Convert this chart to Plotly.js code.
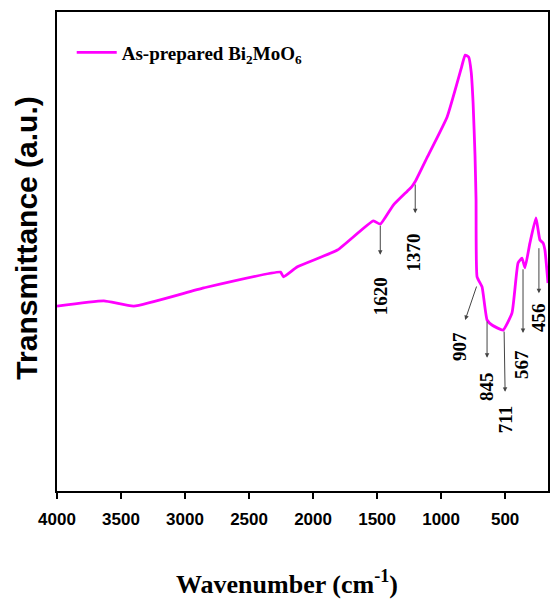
<!DOCTYPE html>
<html>
<head>
<meta charset="utf-8">
<script src="https://cdn.plot.ly/plotly-3.0.1.min.js"></script>
<style>html,body{margin:0;padding:0;background:#fff;}#chart{width:553px;height:599px;}</style>
</head>
<body>
<div id="chart"></div>
<script>
var wavenumber = [4000, 3634, 3400, 2854, 2254, 2231, 2122, 1810, 1529, 1475, 1373, 1264, 1230, 1202, 1108, 953, 840, 812, 785, 765, 750, 735, 727, 719, 680, 641, 600, 516, 446, 399, 368, 345, 306, 259, 228, 204, 189, 165];
var transmittance = [38.6, 39.7, 38.6, 42.4, 45.7, 44.7, 46.8, 50.3, 56.4, 55.7, 59.7, 62.6, 63.5, 64.6, 69.7, 78.1, 88.5, 91.0, 90.6, 87.5, 81.0, 70.0, 60.8, 44.7, 42.6, 35.7, 34.6, 33.6, 37.2, 47.6, 48.6, 46.6, 51.8, 57.0, 52.4, 51.8, 50.3, 43.4];
var seriesName = 'As-prepared Bi<sub>2</sub>MoO<sub>6</sub>';
var xTitle = 'Wavenumber (cm<sup>-1</sup>)';
var yTitle = 'Transmittance (a.u.)';
var tickValues = [4000, 3500, 3000, 2500, 2000, 1500, 1000, 500];
var tickLabels = ['4000', '3500', '3000', '2500', '2000', '1500', '1000', '500'];
var peakLabels = ['1620', '1370', '907', '845', '711', '567', '456'];

// layout placement of peak markers: [tailX, tailY, headX, headY, textX, textY]
var peakPlacement = [
  [1475, 55.7, 1475, 49.3, 1475, 40.7],
  [1202, 64.3, 1202, 58.0, 1215, 49.7],
  [719, 43.0, 812, 35.7, 851, 30.1],
  [641, 35.7, 641, 27.8, 649, 21.7],
  [508, 33.6, 500, 20.7, 500, 14.8],
  [360, 46.6, 360, 33.0, 376, 26.5],
  [236, 51.0, 236, 41.3, 243, 36.1]
];

var annotations = [];
peakLabels.forEach(function (lab, i) {
  var p = peakPlacement[i];
  annotations.push({
    x: p[2], y: p[3], ax: p[0], ay: p[1], xref: 'x', yref: 'y', axref: 'x', ayref: 'y',
    text: '', showarrow: true, arrowhead: 2, arrowsize: 0.9, arrowwidth: 1, arrowcolor: '#444', standoff: 0, startstandoff: 0
  });
  annotations.push({
    x: p[4], y: p[5], xref: 'x', yref: 'y', text: lab, showarrow: false, textangle: -90,
    font: {family: 'Liberation Serif', size: 19, color: '#000', weight: 'bold'}
  });
});
annotations.push({
  xref: 'paper', yref: 'paper', x: 0.468, y: -0.19, yanchor: 'middle', text: xTitle, showarrow: false,
  font: {family: 'Liberation Serif', size: 26, color: '#000', weight: 'bold'}
});
annotations.push({
  xref: 'paper', yref: 'paper', x: -0.062, y: 0.528, xanchor: 'center', text: yTitle, showarrow: false, textangle: -90,
  font: {family: 'Liberation Sans', size: 30, color: '#000', weight: 'bold'}
});

var trace = {
  x: wavenumber, y: transmittance, type: 'scatter', mode: 'lines', name: seriesName,
  line: {color: '#ff00ff', width: 2.8, shape: 'spline', smoothing: 0.4}
};

var layout = {
  width: 553, height: 599,
  margin: {l: 57, r: 5, t: 12, b: 108},
  paper_bgcolor: '#fff', plot_bgcolor: '#fff',
  showlegend: true,
  legend: {x: 0.03, y: 0.955, xanchor: 'left', yanchor: 'top', bgcolor: 'rgba(0,0,0,0)', itemwidth: 40,
    font: {family: 'Liberation Serif', size: 19, color: '#000', weight: 'bold'}},
  xaxis: {
    range: [4000, 165], tickmode: 'array', tickvals: tickValues, ticktext: tickLabels,
    ticks: 'outside', ticklen: 6, tickwidth: 2, tickcolor: '#000', ticklabelstandoff: 6,
    showline: true, linecolor: '#000', linewidth: 2, mirror: true, showgrid: false, zeroline: false,
    tickfont: {family: 'Liberation Sans', size: 17, color: '#000', weight: 'bold'}
  },
  yaxis: {
    range: [0, 100], showticklabels: false, ticks: '',
    showline: true, linecolor: '#000', linewidth: 2, mirror: true, showgrid: false, zeroline: false
  },
  annotations: annotations
};

Plotly.newPlot('chart', [trace], layout, {displayModeBar: false, staticPlot: true});
</script>
</body>
</html>
